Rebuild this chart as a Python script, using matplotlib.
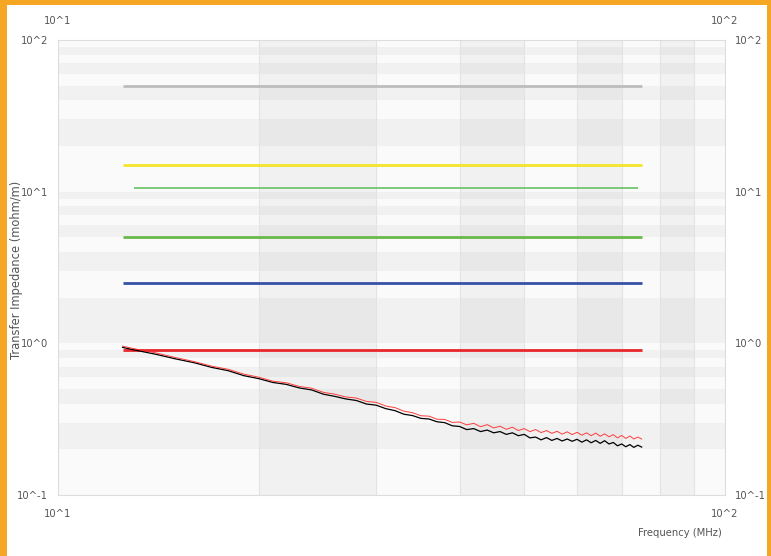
import matplotlib
matplotlib.use("Agg")
import matplotlib.pyplot as plt
from matplotlib import font_manager
from matplotlib.font_manager import FontProperties
from matplotlib.patches import Rectangle

# measured transfer impedance (mohm/m) vs frequency (MHz)
freq = [12.5, 13, 14, 15, 16, 17, 18, 19, 20, 21, 22, 23, 24, 25, 26, 27, 28, 29, 30,
        31, 32, 33, 34, 35, 36, 37, 38, 39, 40, 41, 42, 43, 44, 45, 46, 47, 48, 49, 50,
        51, 52, 53, 54, 55, 56, 57, 58, 59, 60, 61, 62, 63, 64, 65, 66, 67, 68, 69, 70,
        71, 72, 73, 74, 75]
zt_black = [0.94, 0.905, 0.848, 0.79, 0.745, 0.694, 0.66, 0.612, 0.585, 0.552, 0.536, 0.508,
            0.493, 0.462, 0.447, 0.43, 0.42, 0.398, 0.391, 0.371, 0.36, 0.341, 0.334, 0.32,
            0.317, 0.304, 0.3, 0.286,
            0.283, 0.270, 0.274, 0.262, 0.268, 0.257, 0.262, 0.251, 0.257, 0.246, 0.251,
            0.238, 0.241, 0.231, 0.239, 0.229, 0.236, 0.227, 0.234, 0.226, 0.233, 0.223,
            0.231, 0.221, 0.229, 0.219, 0.228, 0.217, 0.222, 0.211, 0.217, 0.208, 0.215,
            0.206, 0.213, 0.207]
zt_red = [0.958, 0.922, 0.866, 0.806, 0.758, 0.707, 0.674, 0.626, 0.598, 0.563, 0.549, 0.52,
          0.506, 0.475, 0.462, 0.443, 0.436, 0.414, 0.408, 0.386, 0.377, 0.357, 0.349, 0.333,
          0.331, 0.316, 0.315, 0.301,
          0.303, 0.290, 0.297, 0.282, 0.291, 0.277, 0.284, 0.271, 0.280, 0.266, 0.274,
          0.262, 0.270, 0.258, 0.266, 0.255, 0.263, 0.252, 0.261, 0.250, 0.259, 0.248,
          0.257, 0.246, 0.256, 0.244, 0.253, 0.242, 0.250, 0.238, 0.247, 0.236, 0.245,
          0.234, 0.241, 0.234]

# limit lines: (level, f_start, f_stop, colour, width)
limits = [
    (50.0, 12.5, 75.0, "#bdbdbd", 2.0),
    (15.0, 12.5, 75.0, "#f2e52a", 2.0),
    (10.5, 13.0, 74.0, "#66c266", 1.2),
    (5.0, 12.5, 75.0, "#6ab84a", 2.0),
    (2.5, 12.5, 75.0, "#3551a8", 2.0),
    (0.9, 12.5, 75.0, "#e8262b", 2.0),
]

x_grid = [10, 20, 30, 40, 50, 60, 70, 80, 90, 100]
y_grid = [0.1, 0.2, 0.3, 0.4, 0.5, 0.6, 0.7, 0.8, 0.9,
          1, 2, 3, 4, 5, 6, 7, 8, 9,
          10, 20, 30, 40, 50, 60, 70, 80, 90, 100]

# a condensed face for the tick labels if one is installed
cond = None
for f in font_manager.fontManager.ttflist:
    low = f.fname.lower()
    if ("condensed" in low or "narrow" in low) and "bold" not in low and "oblique" not in low \
            and "italic" not in low and "sans" in low and "mono" not in low:
        cond = f.fname
        break
if cond:
    tick_fp = FontProperties(fname=cond, size=8)
else:
    tick_fp = FontProperties(family="DejaVu Sans", size=7.3)

fig = plt.figure(figsize=(7.71, 5.56), dpi=100)
W, H = 771, 556
for (x0, y0, w, h) in [(0, 0, 7, H), (0, H - 5, W, 5), (W - 4, 0, 4, H)]:
    fig.patches.append(Rectangle((x0 / W, y0 / H), w / W, h / H, transform=fig.transFigure,
                                 facecolor="#f5a623", edgecolor="none", zorder=10))

ax = fig.add_axes([58 / W, 1 - 495 / H, 667 / W, 455 / H])
ax.set_xscale("log")
ax.set_yscale("log")
ax.set_xlim(10, 100)
ax.set_ylim(0.1, 100)
ax.set_facecolor("#fafafa")

# alternating shaded bands
for i in range(len(x_grid) - 1):
    if i % 2 == 1:
        ax.axvspan(x_grid[i], x_grid[i + 1], color="#000000", alpha=0.035, lw=0, zorder=0)
for i in range(len(y_grid) - 1):
    if i % 2 == 1:
        ax.axhspan(y_grid[i], y_grid[i + 1], color="#000000", alpha=0.035, lw=0, zorder=0)
for xv in x_grid[1:-1]:
    ax.axvline(xv, color="#e3e3e3", lw=0.8, zorder=0.5)

for level, f0, f1, col, lw in limits:
    ax.plot([f0, f1], [level, level], color=col, lw=lw, solid_capstyle="butt", zorder=3)

ax.plot(freq, zt_black, color="black", lw=0.9, zorder=4)
ax.plot(freq, zt_red, color="#ff2a2a", lw=0.7, alpha=0.9, zorder=5)

for sp in ax.spines.values():
    sp.set_color("#dddddd")
    sp.set_linewidth(0.8)

ax.xaxis.set_minor_locator(matplotlib.ticker.NullLocator())
ax.yaxis.set_minor_locator(matplotlib.ticker.NullLocator())
ax.set_xticks([10, 100])
ax.set_xticklabels(["10^1", "10^2"])
ax.set_yticks([0.1, 1, 10, 100])
ax.set_yticklabels(["10^-1", "10^0", "10^1", "10^2"])
ax.tick_params(axis="x", length=0, pad=10, labeltop=True, labelcolor="#555555")
ax.tick_params(axis="y", length=0, pad=7, labelright=True, labelcolor="#555555")
for t in ax.xaxis.get_major_ticks() + ax.yaxis.get_major_ticks():
    t.label1.set_fontproperties(tick_fp)
    t.label2.set_fontproperties(tick_fp)

fig.text(722 / W, 1 - 533 / H, "Frequency (MHz)", ha="right", va="center",
         fontproperties=tick_fp, color="#555555")
fig.text(17 / W, 1 - 270 / H, "Transfer Impedance (mohm/m)", rotation=90,
         ha="center", va="center", fontsize=8.3, color="#555555")

plt.savefig("out.png", dpi=100)
